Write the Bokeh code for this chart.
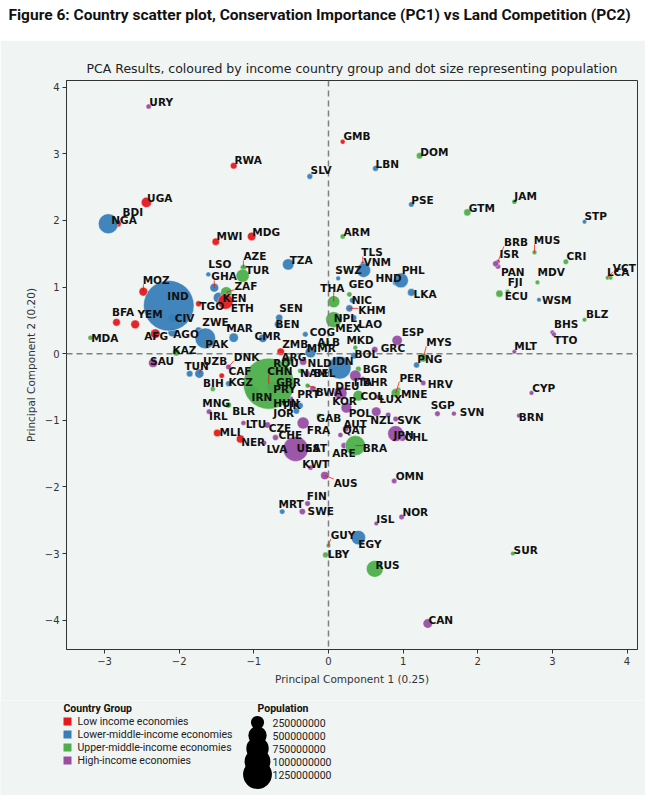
import numpy as np
import pandas as pd
from bokeh.plotting import figure
from bokeh.models import ColumnDataSource, Range1d, FixedTicker, Span
from bokeh.layouts import column
from bokeh.core.properties import value
from bokeh.embed import file_html
from bokeh.resources import INLINE

# PCA scores, one entry per country
codes = [
    "URY", "GMB", "RWA", "SLV", "UGA", "NGA", "BDI", "MWI", "MDG", "ARM",
    "DOM", "LBN", "PSE", "GTM", "JAM", "STP", "BRB", "MUS", "ISR", "PAN",
    "CRI", "MDV", "VCT", "LCA", "FJI", "ECU", "WSM", "BLZ", "BHS", "TTO",
    "MLT", "ESP", "GRC", "MYS", "PNG", "BOL", "MKD", "IDN", "BGR", "ITA",
    "BHR", "DEU", "KOR", "COL", "LUX", "PER", "MNE", "HRV", "CYP", "SGP",
    "SVN", "BRN", "POL", "NZL", "SVK", "JPN", "CHL", "GAB", "FRA", "AUT",
    "QAT", "ARE", "BRA", "USA", "EST", "LVA", "NER", "MLI", "CHE", "CZE",
    "LTU", "KWT", "AUS", "OMN", "FIN", "MRT", "SWE", "NOR", "ISL", "EGY",
    "GUY", "LBY", "RUS", "CAN", "SUR", "LSO", "GHA", "AZE", "TUR", "ZAF",
    "KEN", "ETH", "TGO", "MOZ", "IND", "CIV", "BFA", "YEM", "MDA", "AFG",
    "AGO", "ZWE", "PAK", "MAR", "CMR", "SEN", "BEN", "COG", "ZMB", "MMR",
    "ALB", "ARG", "ROU", "NLD", "NAM", "BEL", "CHN", "GBR", "PRY", "IRN",
    "HUN", "JOR", "TJK", "PRT", "BWA", "KAZ", "SAU", "TUN", "UZB", "DNK",
    "CAF", "BIH", "KGZ", "MNG", "IRL", "BLR", "GEO", "SWZ", "VNM", "TLS",
    "PHL", "HND", "LKA", "THA", "NIC", "KHM", "MEX", "NPL", "LAO", "TZA"]

group = [
    "H", "L", "L", "LM", "L", "LM", "L", "L", "L", "UM",
    "UM", "LM", "LM", "UM", "UM", "LM", "H", "UM", "H", "H",
    "UM", "UM", "UM", "UM", "UM", "UM", "LM", "UM", "H", "H",
    "H", "H", "H", "UM", "LM", "LM", "UM", "LM", "UM", "H",
    "H", "H", "H", "UM", "H", "UM", "UM", "H", "H", "H",
    "H", "H", "H", "H", "H", "H", "H", "UM", "H", "H",
    "H", "H", "UM", "H", "H", "H", "L", "L", "H", "H",
    "H", "H", "H", "H", "H", "LM", "H", "H", "H", "LM",
    "UM", "UM", "UM", "H", "UM", "LM", "LM", "UM", "UM", "UM",
    "LM", "L", "L", "L", "LM", "LM", "L", "L", "UM", "L",
    "LM", "LM", "LM", "LM", "LM", "LM", "LM", "LM", "L", "LM",
    "UM", "UM", "H", "H", "UM", "H", "UM", "H", "UM", "LM",
    "H", "LM", "LM", "H", "UM", "UM", "H", "LM", "LM", "H",
    "L", "UM", "LM", "LM", "H", "UM", "UM", "LM", "LM", "LM",
    "LM", "LM", "LM", "UM", "LM", "LM", "UM", "LM", "LM", "LM"]

pc1 = [
    -2.41, 0.19, -1.27, -0.25, -2.44, -2.95, -2.82, -1.51, -1.03, 0.19,
    1.22, 0.63, 1.11, 1.86, 2.49, 3.43, 2.27, 2.76, 2.24, 2.27,
    3.18, 2.80, 3.74, 3.78, 2.40, 2.29, 2.82, 3.43, 3.00, 3.02,
    2.49, 0.92, 0.62, 1.27, 1.18, 0.34, 0.36, 0.15, 0.40, 0.36,
    0.46, 0.16, 0.24, 0.40, 0.66, 0.90, 0.94, 1.27, 2.72, 1.46,
    1.68, 2.55, 0.64, 0.80, 0.90, 0.90, 0.99, -0.13, -0.34, 0.23,
    0.16, 0.21, 0.36, -0.44, -0.29, -0.86, -1.18, -1.49, -0.71, -0.82,
    -1.14, -0.24, -0.05, 0.88, -0.28, -0.62, -0.35, 0.98, 0.64, 0.40,
    0.00, -0.04, 0.62, 1.33, 2.47, -1.61, -1.53, -1.14, -1.15, -1.37,
    -1.47, -1.38, -1.74, -2.48, -2.14, -2.09, -2.84, -2.59, -3.19, -2.32,
    -2.09, -1.74, -1.65, -1.27, -0.88, -0.66, -0.68, -0.31, -0.64, -0.24,
    -0.07, -0.55, -0.70, -0.34, -0.38, -0.29, -0.80, -0.75, -0.75, -1.02,
    -0.51, -0.43, -0.38, -0.21, -0.28, -2.04, -2.35, -1.86, -1.73, -1.34,
    -1.43, -1.55, -1.34, -1.35, -1.60, -1.34, 0.28, 0.13, 0.47, 0.46,
    0.97, 0.90, 1.11, 0.07, 0.32, 0.28, 0.07, 0.13, 0.34, -0.54]

pc2 = [
    3.71, 3.18, 2.82, 2.66, 2.27, 1.95, 1.95, 1.68, 1.76, 1.76,
    2.97, 2.78, 2.24, 2.12, 2.28, 1.98, 1.38, 1.52, 1.35, 1.31,
    1.38, 1.07, 1.14, 1.14, 0.93, 0.90, 0.81, 0.51, 0.32, 0.29,
    0.03, 0.20, 0.06, -0.06, -0.17, -0.03, 0.09, -0.21, -0.23, -0.33,
    -0.38, -0.59, -0.81, -0.63, -0.65, -0.59, -0.54, -0.44, -0.59, -0.90,
    -0.90, -0.93, -0.87, -0.92, -0.98, -1.20, -1.26, -0.93, -1.04, -1.13,
    -1.22, -1.38, -1.38, -1.43, -1.40, -1.34, -1.28, -1.19, -1.26, -1.07,
    -1.04, -1.71, -1.83, -1.91, -2.25, -2.37, -2.37, -2.45, -2.55, -2.76,
    -2.88, -3.02, -3.23, -4.05, -3.00, 1.19, 0.99, 1.29, 1.17, 0.92,
    0.84, 0.78, 0.75, 0.93, 0.72, 0.53, 0.47, 0.44, 0.24, 0.30,
    0.32, 0.35, 0.23, 0.24, 0.23, 0.54, 0.44, 0.29, 0.03, 0.02,
    0.15, -0.11, -0.23, -0.12, -0.26, -0.30, -0.45, -0.50, -0.59, -0.59,
    -0.68, -0.86, -0.78, -0.53, -0.48, 0.02, -0.14, -0.30, -0.30, -0.20,
    -0.33, -0.53, -0.45, -0.77, -0.87, -0.77, 0.89, 1.13, 1.25, 1.35,
    1.10, 1.07, 0.92, 0.78, 0.80, 0.68, 0.51, 0.54, 0.54, 1.34]

# population, millions
pop_m = [
    3.5, 2.4, 13, 6.5, 46, 206, 12, 19, 28, 3.0,
    11, 6.8, 4.8, 17, 2.8, 0.2, 0.29, 1.3, 9.2, 4.3,
    5.1, 0.54, 0.11, 0.18, 0.9, 17.6, 0.2, 0.4, 0.39, 1.4,
    0.51, 47, 10.7, 32, 9, 11.7, 2.1, 273, 6.9, 60,
    1.7, 83, 52, 51, 0.63, 33, 0.62, 4.0, 1.2, 5.7,
    2.1, 0.44, 38, 5.1, 5.5, 126, 19, 2.2, 67, 9.0,
    2.9, 9.9, 212, 331, 1.3, 1.9, 24, 20, 8.6, 10.7,
    2.8, 4.3, 25.7, 5.0, 5.5, 4.6, 10.3, 5.4, 0.36, 102,
    0.79, 6.9, 144, 38, 0.59, 2.1, 31, 10, 84, 59,
    54, 115, 8.3, 31, 1380, 26, 21, 30, 2.6, 39,
    33, 15, 221, 37, 26.5, 16.7, 12, 5.5, 19, 54,
    2.9, 45, 19, 17.4, 2.5, 11.5, 1411, 67, 7.1, 84,
    9.7, 10.2, 9.5, 10.3, 2.4, 19, 35, 12, 34, 5.8,
    4.8, 3.3, 6.6, 3.3, 5.0, 9.4, 3.7, 1.2, 97, 1.3,
    110, 10, 21, 70, 6.6, 16.7, 129, 29, 7.3, 60]

# where each (repelled) label sits, in PC units
label_x = [
    -2.40, 0.20, -1.26, -0.24, -2.43, -2.91, -2.76, -1.50, -1.02, 0.20,
    1.23, 0.63, 1.11, 1.88, 2.49, 3.43, 2.35, 2.75, 2.29, 2.31,
    3.19, 2.80, 3.81, 3.73, 2.40, 2.36, 2.86, 3.45, 3.02, 3.02,
    2.49, 0.98, 0.70, 1.31, 1.19, 0.35, 0.24, 0.05, 0.46, 0.34,
    0.46, 0.09, 0.05, 0.43, 0.68, 0.95, 0.97, 1.33, 2.73, 1.37,
    1.76, 2.55, 0.27, 0.56, 0.92, 0.87, 1.02, -0.16, -0.29, 0.20,
    0.19, 0.05, 0.46, -0.43, -0.31, -0.83, -1.17, -1.46, -0.67, -0.80,
    -1.11, -0.35, 0.07, 0.90, -0.29, -0.67, -0.28, 0.99, 0.64, 0.40,
    0.03, -0.01, 0.63, 1.34, 2.48, -1.61, -1.57, -1.14, -1.11, -1.26,
    -1.42, -1.31, -1.73, -2.49, -2.16, -2.06, -2.90, -2.56, -3.18, -2.47,
    -2.08, -1.69, -1.65, -1.37, -0.99, -0.66, -0.71, -0.25, -0.62, -0.29,
    -0.15, -0.63, -0.74, -0.28, -0.38, -0.20, -0.82, -0.70, -0.74, -1.03,
    -0.74, -0.74, -0.63, -0.42, -0.17, -2.09, -2.39, -1.93, -1.68, -1.27,
    -1.34, -1.68, -1.34, -1.69, -1.60, -1.29, 0.27, 0.09, 0.47, 0.44,
    0.98, 0.63, 1.14, -0.11, 0.31, 0.40, 0.09, 0.07, 0.40, -0.52]

label_y = [
    3.78, 3.26, 2.90, 2.75, 2.34, 2.01, 2.12, 1.76, 1.83, 1.83,
    3.03, 2.85, 2.31, 2.19, 2.36, 2.07, 1.67, 1.70, 1.49, 1.23,
    1.46, 1.23, 1.29, 1.22, 1.07, 0.86, 0.80, 0.59, 0.44, 0.21,
    0.11, 0.33, 0.08, 0.17, -0.08, 0.00, 0.20, -0.11, -0.23, -0.42,
    -0.42, -0.48, -0.71, -0.63, -0.68, -0.36, -0.60, -0.45, -0.51, -0.77,
    -0.87, -0.95, -0.89, -0.99, -0.99, -1.22, -1.25, -0.96, -1.14, -1.05,
    -1.14, -1.49, -1.41, -1.41, -1.41, -1.43, -1.32, -1.17, -1.22, -1.11,
    -1.05, -1.65, -1.94, -1.83, -2.13, -2.25, -2.36, -2.37, -2.48, -2.85,
    -2.72, -3.00, -3.17, -3.99, -2.94, 1.34, 1.16, 1.46, 1.25, 1.02,
    0.83, 0.69, 0.71, 1.10, 0.86, 0.53, 0.62, 0.59, 0.23, 0.26,
    0.29, 0.47, 0.15, 0.39, 0.27, 0.69, 0.45, 0.32, 0.15, 0.08,
    0.17, -0.05, -0.14, -0.14, -0.29, -0.29, -0.26, -0.42, -0.53, -0.65,
    -0.74, -0.89, -0.77, -0.60, -0.57, 0.05, -0.11, -0.18, -0.11, -0.05,
    -0.26, -0.44, -0.42, -0.74, -0.93, -0.86, 1.05, 1.26, 1.38, 1.52,
    1.25, 1.13, 0.90, 0.99, 0.81, 0.65, 0.38, 0.54, 0.45, 1.41]

group_keys = ["L", "LM", "UM", "H"]
group_names = ["Low income economies", "Lower-middle-income economies",
               "Upper-middle-income economies", "High-income economies"]
group_colors = ["#e41a1c", "#377eb8", "#4daf4a", "#984ea3"]
pop_legend = [250000000, 500000000, 750000000, 1000000000, 1250000000]
x_ticks = [-3, -2, -1, 0, 1, 2, 3, 4]
y_ticks = [-4, -3, -2, -1, 0, 1, 2, 3, 4]

FIG_TITLE = "Figure 6: Country scatter plot, Conservation Importance (PC1) vs Land Competition (PC2)"
PLOT_TITLE = "PCA Results, coloured by income country group and dot size representing population"

W = 645
BG = "#f0f4f3"
SANS = "Roboto"

df = pd.DataFrame(dict(code=codes, group=group, pc1=pc1, pc2=pc2,
                       pop=np.array(pop_m) * 1e6, lx=label_x, ly=label_y))
df["color"] = df["group"].map(dict(zip(group_keys, group_colors)))

# seaborn-like size mapping: marker area linear in population
DMIN, DMAX = 4.5, 51.0
pmax = df["pop"].max()


def dot_size(pop):
    return np.sqrt(DMIN ** 2 + (DMAX ** 2 - DMIN ** 2) * np.asarray(pop, dtype=float) / pmax)


df["size"] = dot_size(df["pop"])
df = df.sort_values("pop").reset_index(drop=True)
src = ColumnDataSource(df)

# adjustText-style leader lines: from the point to the nearest edge of its label box
XR, YR = (-3.51, 4.14), (-4.44, 4.10)
FW, FH = 571, 569                      # frame size in px
ux = (XR[1] - XR[0]) / FW              # data units per px
uy = (YR[1] - YR[0]) / FH
ex = np.clip(df["pc1"], df["lx"], df["lx"] + 24 * ux)
ey = np.clip(df["pc2"], df["ly"] - 4 * uy, df["ly"] + 4 * uy)
far = np.hypot((df["pc1"] - ex) / ux, (df["pc2"] - ey) / uy) > 7
arrows = ColumnDataSource(dict(x0=df["pc1"][far], y0=df["pc2"][far], x1=ex[far], y1=ey[far]))


def blank(height, fill):
    # axis-free canvas whose data units are pixels (y grows downwards)
    f = figure(width=W, height=height, x_range=Range1d(0, W), y_range=Range1d(height, 0),
               output_backend="svg", toolbar_location=None, frame_align=False,
               x_axis_location=None, y_axis_location=None,
               min_border_left=0, min_border_right=0, min_border_top=0, min_border_bottom=0,
               background_fill_color=fill, border_fill_color=fill, outline_line_color=None)
    f.grid.visible = False
    return f


# ---- header
head = blank(40, "white")
head.text(x=[8], y=[14], text=[FIG_TITLE], text_font=value(SANS), text_font_style="bold",
          text_font_size="15.5px", text_color="#111", text_align="left", text_baseline="middle")

# ---- main scatter
p = figure(width=W, height=660, x_range=Range1d(*XR), y_range=Range1d(*YR),
           output_backend="svg", toolbar_location=None, frame_align=False,
           min_border_left=66, min_border_right=8, min_border_top=40, min_border_bottom=51,
           background_fill_color=BG, border_fill_color=BG, title=PLOT_TITLE)
p.title.align = "center"
p.title.text_font = "DejaVu Sans"
p.title.text_font_size = "12.5px"
p.title.text_font_style = "normal"
p.title.text_color = "#222"
p.grid.visible = False
p.outline_line_color = "#333"

p.scatter("pc1", "pc2", size="size", fill_color="color", fill_alpha=0.95,
          line_color="white", line_width=0.4, source=src)

for dim in ("height", "width"):
    p.add_layout(Span(location=0, dimension=dim, line_color="#808080",
                      line_dash="6 4", line_width=1.5))

leaders = p.segment("x0", "y0", "x1", "y1", source=arrows, line_color="red",
                    line_width=0.8, line_alpha=0.9)
leaders.level = "overlay"

labels = p.text("lx", "ly", text="code", source=src, text_font=value("DejaVu Sans"),
                text_font_style="bold", text_font_size="10.5px", text_color="#111",
                text_align="left", text_baseline="middle")
labels.level = "overlay"

p.xaxis.ticker = FixedTicker(ticks=x_ticks)
p.yaxis.ticker = FixedTicker(ticks=y_ticks)
p.xaxis.major_label_overrides = {t: ("\u2212%d" % -t if t < 0 else str(t)) for t in x_ticks}
p.yaxis.major_label_overrides = {t: ("\u2212%d" % -t if t < 0 else str(t)) for t in y_ticks}
p.xaxis.axis_label = "Principal Component 1 (0.25)"
p.yaxis.axis_label = "Principal Component 2 (0.20)"
for ax in (p.xaxis, p.yaxis):
    ax.axis_line_color = "#333"
    ax.major_tick_line_color = "#333"
    ax.major_tick_out = 4
    ax.major_tick_in = 0
    ax.minor_tick_out = 0
    ax.minor_tick_in = 0
    ax.major_label_standoff = 3
    ax.major_label_text_font = "DejaVu Sans"
    ax.major_label_text_font_size = "10px"
    ax.major_label_text_color = "#333"
    ax.axis_label_text_font = "DejaVu Sans"
    ax.axis_label_text_font_size = "10.5px"
    ax.axis_label_text_font_style = "normal"
    ax.axis_label_text_color = "#333"
    ax.axis_label_standoff = 5

# ---- legends
leg = blank(95, BG)

rows = [21 + 13 * i for i in range(len(group_names))]
leg.text(x=[63], y=[8], text=["Country Group"], text_font=value(SANS), text_font_style="bold",
         text_font_size="10.5px", text_color="#111", text_baseline="middle")
leg.scatter(x=[67] * len(rows), y=rows, marker="square", size=8, fill_color=group_colors,
            line_color=None)
leg.text(x=[77] * len(rows), y=rows, text=group_names, text_font=value(SANS),
         text_font_size="10.5px", text_color="#222", text_baseline="middle")

prow = [22 + 13 * i for i in range(len(pop_legend))]
leg.text(x=[257], y=[8], text=["Population"], text_font=value(SANS), text_font_style="bold",
         text_font_size="10.5px", text_color="#111", text_baseline="middle")
leg.scatter(x=[257] * len(prow), y=prow, size=dot_size(pop_legend) * 0.6, fill_color="black",
            line_color=None)
leg.text(x=[272] * len(prow), y=prow, text=[str(v) for v in pop_legend], text_font=value(SANS),
         text_font_size="10.5px", text_color="#222", text_baseline="middle")

page = column(head, p, leg)
open("out.html", "w").write(file_html(page, INLINE))
